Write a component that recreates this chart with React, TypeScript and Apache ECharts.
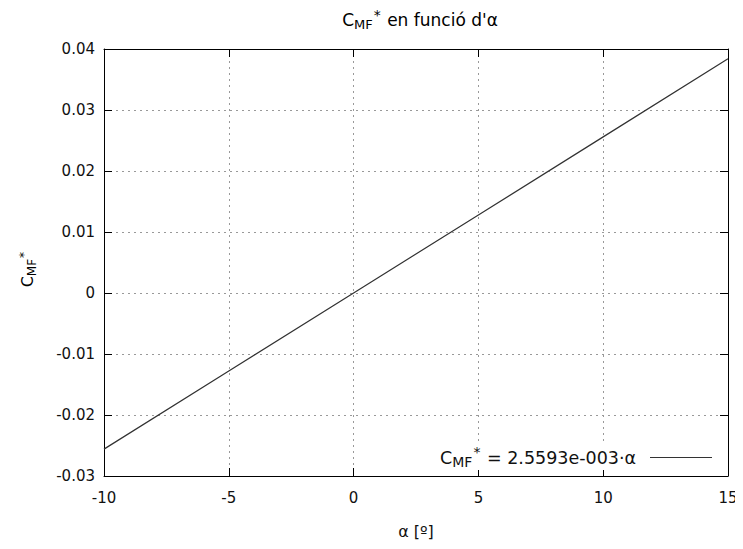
import React, { useEffect, useRef } from "react";
import * as echarts from "echarts";

// Angle of attack (degrees) and the fitted moment coefficient C_MF* = 2.5593e-003·α
const alphaDeg = [-10, -5, 0, 5, 10, 15];
const cmfValues = [-0.025593, -0.0127965, 0, 0.0127965, 0.025593, 0.0383895];
const xTicks = [-10, -5, 0, 5, 10, 15];
const yTicks = [-0.03, -0.02, -0.01, 0, 0.01, 0.02, 0.03, 0.04];
const seriesName = "CMF* = 2.5593e-003·α";

const FONT = "DejaVu Sans";
const INK = "#111";

// rich-text styles for "C" with subscript "MF" and superscript "*"
const makeRich = (size: number) => ({
  n: { fontFamily: FONT, fontSize: size, color: INK },
  sub: {
    fontFamily: FONT,
    fontSize: Math.round(size * 0.78),
    color: INK,
    padding: [Math.round(size * 0.5), 0, 0, 0],
  },
  sup: {
    fontFamily: FONT,
    fontSize: Math.round(size * 0.8),
    color: INK,
    padding: [0, 1, Math.round(size * 0.6), 1],
  },
});

export default function App() {
  const ref = useRef<HTMLDivElement>(null);

  useEffect(() => {
    if (!ref.current) return;
    const chart = echarts.init(ref.current, null, { renderer: "svg" });

    const fmtY = (v: number) => {
      const r = Math.round(v * 100) / 100;
      return r === 0 ? "0" : r.toFixed(2);
    };

    const frameLine = { show: true, onZero: false, lineStyle: { color: "#000", width: 1 } };
    const frameTick = { show: true, inside: true, length: 8, lineStyle: { color: "#000" } };
    const gridDots = { show: true, lineStyle: { color: "#999", type: [2, 4], width: 1 } };

    chart.setOption({
      animation: false,
      backgroundColor: "#fff",
      grid: { left: 104, right: 15, top: 49, bottom: 73, containLabel: false },
      graphic: [
        {
          type: "text",
          x: 420,
          y: 20,
          style: {
            text: "{n|C}{sub|MF}{sup|*}{n| en funció d'α}",
            rich: makeRich(17),
            align: "center",
            verticalAlign: "middle",
          },
        },
        {
          type: "text",
          x: 28,
          y: 269,
          rotation: Math.PI / 2,
          style: {
            text: "{n|C}{sub|MF}{sup|*}",
            rich: makeRich(15.5),
            align: "center",
            verticalAlign: "middle",
          },
        },
      ],
      xAxis: [
        {
          type: "value",
          min: xTicks[0],
          max: xTicks[xTicks.length - 1],
          interval: 5,
          position: "bottom",
          name: "α [º]",
          nameLocation: "middle",
          nameGap: 47,
          nameTextStyle: { fontFamily: FONT, fontSize: 16, color: INK },
          axisLine: frameLine,
          axisTick: frameTick,
          axisLabel: { fontFamily: FONT, fontSize: 15, color: INK, margin: 14 },
          splitLine: gridDots,
        },
        {
          type: "value",
          min: xTicks[0],
          max: xTicks[xTicks.length - 1],
          interval: 5,
          position: "top",
          axisLine: frameLine,
          axisTick: frameTick,
          axisLabel: { show: false },
          splitLine: { show: false },
        },
      ],
      yAxis: [
        {
          type: "value",
          min: yTicks[0],
          max: yTicks[yTicks.length - 1],
          interval: 0.01,
          position: "left",
          axisLine: frameLine,
          axisTick: frameTick,
          axisLabel: { fontFamily: FONT, fontSize: 15, color: INK, margin: 9, formatter: fmtY },
          splitLine: gridDots,
        },
        {
          type: "value",
          min: yTicks[0],
          max: yTicks[yTicks.length - 1],
          interval: 0.01,
          position: "right",
          axisLine: frameLine,
          axisTick: frameTick,
          axisLabel: { show: false },
          splitLine: { show: false },
        },
      ],
      legend: {
        data: [seriesName],
        right: 29,
        top: 444,
        align: "right",
        icon: "rect",
        itemWidth: 62,
        itemHeight: 1,
        itemGap: 0,
        backgroundColor: "#fff",
        padding: [1, 2, 1, 4],
        formatter: () => "{n|C}{sub|MF}{sup|*}{n| = 2.5593e-003·α}",
        textStyle: { rich: makeRich(17.5), padding: [0, 9, 0, 0] },
      },
      series: [
        {
          name: seriesName,
          type: "line",
          xAxisIndex: 0,
          yAxisIndex: 0,
          showSymbol: false,
          data: alphaDeg.map((a, i) => [a, cmfValues[i]]),
          lineStyle: { color: "#333", width: 1.2 },
          itemStyle: { color: "#333" },
        },
      ],
    });

    return () => chart.dispose();
  }, []);

  return <div ref={ref} style={{ width: 743, height: 549, margin: -8 }} />;
}
